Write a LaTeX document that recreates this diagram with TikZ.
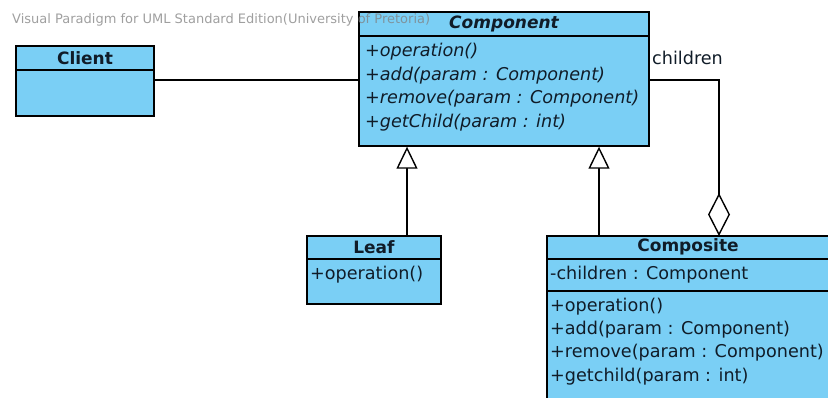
\documentclass[tikz,border=0pt]{standalone}
\usepackage{fontspec}
\setmainfont{DejaVu Sans}
\usetikzlibrary{arrows.meta}
\definecolor{umlblue}{RGB}{122,207,245}
\definecolor{umltext}{RGB}{16,28,40}
\tikzset{
  classbox/.style={draw=black, fill=umlblue, line width=1.4pt, rectangle, inner sep=0pt},
  divider/.style={line width=1.4pt},
  member/.style={anchor=west, inner sep=0pt, text=umltext, font=\fontsize{17.6}{20}\selectfont},
  imember/.style={member, font=\fontsize{17.6}{20}\selectfont\itshape},
  title/.style={inner sep=0pt, text=umltext, font=\fontsize{17}{20}\selectfont\bfseries},
  ititle/.style={inner sep=0pt, text=umltext, font=\fontsize{17}{20}\selectfont\bfseries\itshape},
  conn/.style={line width=1.4pt},
  gen/.style={conn, -{Triangle[open, length=22pt, width=21pt, fill=white]}},
  agg/.style={conn, -{Diamond[open, length=43pt, width=22pt, fill=white]}},
  lbl/.style={inner sep=0pt, anchor=west, text=umltext, font=\fontsize{17.6}{20}\selectfont},
  watermark/.style={inner sep=0pt, anchor=west, text=gray, text opacity=0.75, font=\fontsize{13}{15}\selectfont}
}
\begin{document}
\begin{tikzpicture}[x=1pt,y=-1pt]
\useasboundingbox (0,0) rectangle (828,397);
\clip (0,0) rectangle (828,397);
\fill[white] (0,0) rectangle (828,397);

% Client
\node[classbox, minimum width=138pt, minimum height=70pt] (client) at (85,81) {};
\draw[divider] (16,70) -- (154,70);
\node[title] (clientT) at (85,58) {Client};

% Component
\node[classbox, minimum width=290pt, minimum height=134pt] (comp) at (504,79) {};
\draw[divider] (359,36) -- (649,36);
\node[ititle] (compT) at (504,24) {Component};
\node[imember] (c1) at (365,52) {+operation()};
\node[imember] (c2) at (365,76) {+add(param : Component)};
\node[imember] (c3) at (365,99) {+remove(param : Component)};
\node[imember] (c4) at (365,123) {+getChild(param : int)};

% Leaf
\node[classbox, minimum width=134pt, minimum height=68pt] (leaf) at (374,270) {};
\draw[divider] (307,259) -- (441,259);
\node[title] (leafT) at (374,247) {Leaf};
\node[member] (l1) at (310,275) {+operation()};

% Composite
\node[classbox, minimum width=303pt, minimum height=190pt] (composite) at (698.5,331) {};
\draw[divider] (547,259) -- (850,259);
\draw[divider] (547,291) -- (850,291);
\node[title] (compoT) at (688,247) {Composite};
\node[member] (m0) at (550,275) {-children : Component};
\node[member] (m1) at (550,307) {+operation()};
\node[member] (m2) at (550,330) {+add(param : Component)};
\node[member] (m3) at (550,353) {+remove(param : Component)};
\node[member] (m4) at (550,377) {+getchild(param : int)};

% connectors
\draw[conn] (client.east |- 0,80) -- (comp.west |- 0,80);
\draw[gen] (leaf.north -| 407,0) -- (comp.south -| 407,0);
\draw[gen] (composite.north -| 599,0) -- (comp.south -| 599,0);
\coordinate (aggend) at (719,236);
\draw[agg] (comp.east |- 0,80) -| (aggend);
\node[lbl] (children) at (652,58) {children};

% watermark
\node[watermark] (wm) at (12,20) {Visual Paradigm for UML Standard Edition(University of Pretoria)};
\end{tikzpicture}
\end{document}
